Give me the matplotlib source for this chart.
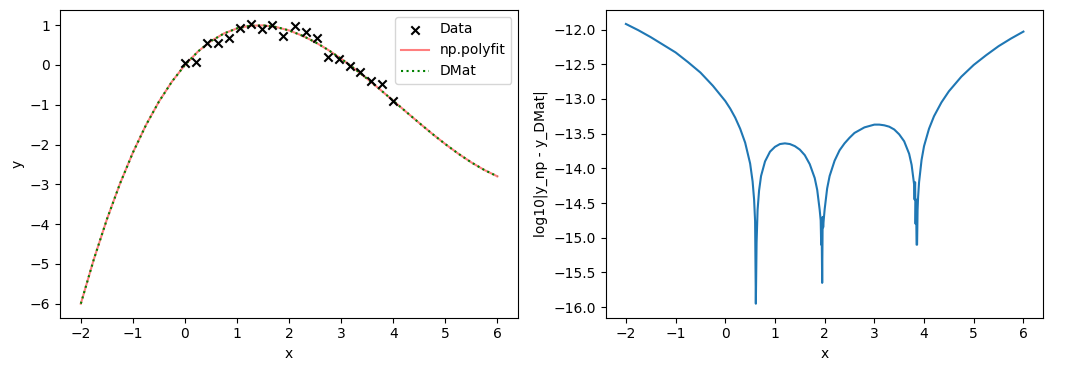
import matplotlib
matplotlib.use('Agg')
import matplotlib.pyplot as plt

# data points
x_data = [0.0, 0.21, 0.42, 0.63, 0.84, 1.05, 1.26, 1.47, 1.68, 1.89,
          2.11, 2.32, 2.53, 2.74, 2.95, 3.16, 3.37, 3.58, 3.79, 4.0]
y_data = [0.04, 0.075, 0.545, 0.545, 0.68, 0.94, 1.03, 0.905, 1.005, 0.73,
          0.98, 0.83, 0.67, 0.19, 0.14, -0.025, -0.17, -0.41, -0.485, -0.905]

# fitted curve (np.polyfit and DMat overlap)
x_fit = [-2.0, -1.75, -1.5, -1.25, -1.0, -0.75, -0.5, -0.25, 0.0, 0.25, 0.5,
         0.75, 1.0, 1.25, 1.5, 1.75, 2.0, 2.25, 2.5, 2.75, 3.0, 3.25, 3.5,
         3.75, 4.0, 4.25, 4.5, 4.75, 5.0, 5.25, 5.5, 5.75, 6.0]
y_fit = [-6.0, -4.884, -3.882, -2.99, -2.202, -1.514, -0.921, -0.418, 0.0,
         0.338, 0.6, 0.792, 0.919, 0.985, 0.995, 0.954, 0.867, 0.738, 0.574,
         0.378, 0.156, -0.088, -0.348, -0.621, -0.9, -1.182, -1.46, -1.732,
         -1.99, -2.231, -2.45, -2.641, -2.8]

# log10 of the difference between the two fits
x_err = [-2.0, -1.75, -1.5, -1.25, -1.0, -0.75, -0.5, -0.25, 0.0, 0.1, 0.2,
         0.3, 0.4, 0.5, 0.55, 0.58, 0.6, 0.615, 0.63, 0.65, 0.68, 0.72, 0.8,
         0.9, 1.0, 1.1, 1.2, 1.3, 1.4, 1.5, 1.6, 1.7, 1.8, 1.85, 1.9, 1.92,
         1.93, 1.94, 1.95, 1.96, 1.97, 1.98, 2.0, 2.05, 2.1, 2.2, 2.3, 2.4,
         2.5, 2.6, 2.7, 2.8, 2.9, 3.0, 3.1, 3.2, 3.3, 3.4, 3.5, 3.6, 3.7,
         3.75, 3.8, 3.81, 3.82, 3.83, 3.84, 3.85, 3.86, 3.87, 3.88, 3.9,
         3.95, 4.0, 4.1, 4.2, 4.35, 4.5, 4.75, 5.0, 5.25, 5.5, 5.75, 6.0]
y_err = [-11.92, -12.01, -12.11, -12.22, -12.33, -12.47, -12.62, -12.81,
         -13.03, -13.14, -13.27, -13.43, -13.63, -13.93, -14.19, -14.45,
         -14.76, -15.95, -15.07, -14.6, -14.32, -14.11, -13.9, -13.76,
         -13.69, -13.65, -13.64, -13.65, -13.68, -13.73, -13.81, -13.94,
         -14.14, -14.31, -14.6, -14.75, -15.1, -14.9, -15.65, -14.7, -14.85,
         -14.75, -14.59, -14.29, -14.11, -13.89, -13.74, -13.64, -13.56,
         -13.49, -13.45, -13.41, -13.39, -13.37, -13.37, -13.38, -13.4,
         -13.44, -13.51, -13.61, -13.79, -13.95, -14.23, -14.45, -14.2,
         -14.8, -14.45, -15.1, -15.1, -14.6, -14.42, -14.2, -13.88, -13.68,
         -13.43, -13.25, -13.05, -12.89, -12.68, -12.51, -12.37, -12.24,
         -12.13, -12.03]

fig = plt.figure(figsize=(10.77, 3.71), dpi=100)
ax1 = fig.add_axes([0.0557, 0.1437, 0.4255, 0.8294])
ax2 = fig.add_axes([0.5627, 0.1437, 0.406, 0.8294])

ax1.scatter(x_data, y_data, marker='x', color='k', label='Data', zorder=3)
ax1.plot(x_fit, y_fit, color='r', alpha=0.5, label='np.polyfit')
ax1.plot(x_fit, y_fit, 'g:', label='DMat')
ax1.set_xlabel('x')
ax1.set_ylabel('y')
ax1.legend(loc='upper right')

ax2.plot(x_err, y_err)
ax2.set_xlabel('x')
ax2.set_ylabel('log10|y_np - y_DMat|')
ax2.set_xticks(range(-2, 7))

fig.savefig('out.png', dpi=100)
